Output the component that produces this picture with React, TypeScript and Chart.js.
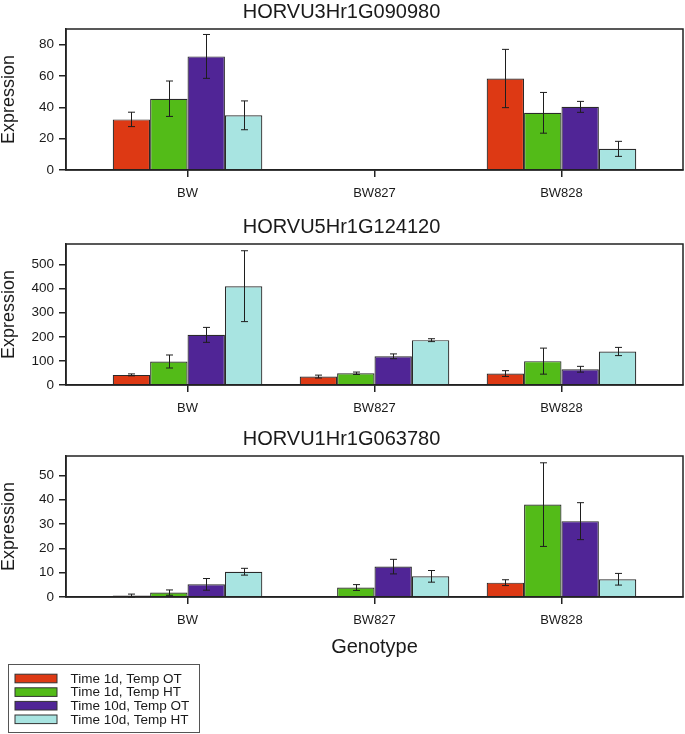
import React, { useEffect, useRef } from 'react';
import { Chart, registerables } from 'chart.js';

Chart.register(...registerables);

// ---------------- data ----------------
const genotypes = ['BW', 'BW827', 'BW828'];
const seriesLabels = ['Time 1d, Temp OT', 'Time 1d, Temp HT', 'Time 10d, Temp OT', 'Time 10d, Temp HT'];
const seriesColors = ['#DD3914', '#53BB18', '#502596', '#A8E4E1'];

const gene1Title = 'HORVU3Hr1G090980';
const gene1Values = {
  t1OT: [32.3, null, 58.4],
  t1HT: [45.5, null, 36.5],
  t10OT: [72.5, null, 40.3],
  t10HT: [34.9, null, 13.5],
};
const gene1Errors = {
  t1OT: [4.6, null, 18.6],
  t1HT: [11.3, null, 13.0],
  t10OT: [14.0, null, 3.5],
  t10HT: [9.2, null, 4.8],
};
const gene1YTicks = [0, 20, 40, 60, 80];
const gene1YMax = 90;

const gene2Title = 'HORVU5Hr1G124120';
const gene2Values = {
  t1OT: [42, 35, 47.5],
  t1HT: [97.5, 48.7, 99],
  t10OT: [208, 119, 65.4],
  t10HT: [410, 186, 139],
};
const gene2Errors = {
  t1OT: [4, 6, 12],
  t1HT: [27, 5, 54],
  t10OT: [31, 10, 12],
  t10HT: [147, 6, 17],
};
const gene2YTicks = [0, 100, 200, 300, 400, 500];
const gene2YMax = 585;

const gene3Title = 'HORVU1Hr1G063780';
const gene3Values = {
  t1OT: [0.6, null, 5.9],
  t1HT: [1.8, 3.9, 38.0],
  t10OT: [5.2, 12.5, 31.2],
  t10HT: [10.4, 8.5, 7.3],
};
const gene3Errors = {
  t1OT: [0.6, null, 1.2],
  t1HT: [1.1, 1.2, 17.2],
  t10OT: [2.4, 3.0, 7.6],
  t10HT: [1.4, 2.4, 2.4],
};
const gene3YTicks = [0, 10, 20, 30, 40, 50];
const gene3YMax = 58;

const seriesKeys = ['t1OT', 't1HT', 't10OT', 't10HT'];

// ---------------- styling ----------------
const FONT = "'Liberation Sans', Arial, Helvetica, sans-serif";
const TEXT = '#1a1a1a';
const AXIS = '#222222';
const WIDTH = 685;

// ---------------- plugins ----------------
const errorBarPlugin = {
  id: 'errorBarsCustom',
  afterDatasetsDraw(chart: any) {
    const ctx = chart.ctx;
    const yScale = chart.scales.y;
    ctx.save();
    ctx.strokeStyle = '#1e1e1e';
    ctx.lineWidth = 1;
    chart.data.datasets.forEach((ds: any, i: number) => {
      const meta = chart.getDatasetMeta(i);
      const errs = ds.errorBars || [];
      meta.data.forEach((el: any, j: number) => {
        const pt = ds.data[j];
        const v = pt ? pt.y : null;
        const e = errs[j];
        if (v == null || e == null) return;
        const x = Math.round(el.x) + 0.5;
        const yt = yScale.getPixelForValue(v + e);
        const yb = yScale.getPixelForValue(Math.max(v - e, 0));
        ctx.beginPath();
        ctx.moveTo(x, yt);
        ctx.lineTo(x, yb);
        ctx.moveTo(x - 3.5, yt);
        ctx.lineTo(x + 3.5, yt);
        ctx.moveTo(x - 3.5, yb);
        ctx.lineTo(x + 3.5, yb);
        ctx.stroke();
      });
    });
    ctx.restore();
  },
};

const framePlugin = {
  id: 'frameCustom',
  afterDraw(chart: any) {
    const { ctx, chartArea } = chart;
    ctx.save();
    ctx.strokeStyle = AXIS;
    ctx.lineWidth = 1.5;
    ctx.strokeRect(chartArea.left, chartArea.top, chartArea.right - chartArea.left, chartArea.bottom - chartArea.top);
    ctx.restore();
  },
};

const boxLegendPlugin = {
  id: 'boxLegendCustom',
  afterDraw(chart: any, _args: any, opts: any) {
    if (!opts || !opts.show) return;
    const ctx = chart.ctx;
    const left = 8.5;
    const top = opts.top + 0.5;
    const w = 191;
    const h = 68;
    ctx.save();
    ctx.strokeStyle = '#555';
    ctx.lineWidth = 1;
    ctx.strokeRect(left, top, w, h);
    ctx.font = `13.5px ${FONT}`;
    ctx.textBaseline = 'middle';
    ctx.textAlign = 'left';
    chart.data.datasets.forEach((ds: any, i: number) => {
      const cy = top + 14 + i * 13.6;
      ctx.fillStyle = ds.backgroundColor;
      ctx.fillRect(15, cy - 4.3, 42, 8.6);
      ctx.strokeStyle = '#333';
      ctx.strokeRect(15, cy - 4.3, 42, 8.6);
      ctx.fillStyle = TEXT;
      ctx.fillText(ds.label, 70.5, cy + 0.5);
    });
    ctx.restore();
  },
};

// ---------------- panel ----------------
type PanelProps = {
  title: string;
  values: Record<string, (number | null)[]>;
  errors: Record<string, (number | null)[]>;
  yTicks: number[];
  yMax: number;
  top: number;
  height: number;
  showGenotype?: boolean;
  showLegend?: boolean;
};

function Panel(props: PanelProps) {
  const ref = useRef<HTMLCanvasElement | null>(null);
  useEffect(() => {
    if (!ref.current) return;
    const { title, values, errors, yTicks, yMax, height, showGenotype, showLegend } = props;
    const datasets = seriesKeys.map((k, i) => ({
      label: seriesLabels[i],
      data: genotypes.map((_, j) => ({ x: j, y: values[k][j] })),
      errorBars: errors[k],
      backgroundColor: seriesColors[i],
      borderColor: '#2a2a2a',
      borderWidth: 1.2,
      categoryPercentage: 0.8,
      barPercentage: 1.0,
    }));
    const chart = new Chart(ref.current, {
      type: 'bar',
      data: { datasets } as any,
      options: {
        responsive: false,
        animation: false,
        events: [],
        layout: { padding: { left: 0, right: 2, top: 0, bottom: 0 } },
        plugins: {
          legend: { display: false },
          tooltip: { enabled: false },
          title: {
            display: true,
            text: title,
            color: TEXT,
            font: { family: FONT, size: 20, weight: 'normal', lineHeight: 1 },
            padding: { top: 2, bottom: 7 },
          },
          boxLegendCustom: { show: !!showLegend, top: 237 },
        } as any,
        scales: {
          x: {
            type: 'linear',
            min: -0.65,
            max: 2.65,
            offset: false,
            afterBuildTicks: (s: any) => {
              s.ticks = genotypes.map((_, j) => ({ value: j }));
            },
            afterFit: (s: any) => {
              s.height = height - 170;
            },
            ticks: {
              color: TEXT,
              font: { family: FONT, size: 13 },
              padding: 9,
              autoSkip: false,
              maxRotation: 0,
              callback: (v: any) => genotypes[v] ?? '',
            },
            grid: { offset: false, drawOnChartArea: false, tickLength: 7, color: AXIS, lineWidth: 1.5 },
            border: { display: true, color: AXIS, width: 1.5 },
            title: {
              display: !!showGenotype,
              text: 'Genotype',
              color: TEXT,
              font: { family: FONT, size: 20, lineHeight: 1.2 },
              padding: { top: 0, bottom: 75 },
            },
          },
          y: {
            type: 'linear',
            min: 0,
            max: yMax,
            afterBuildTicks: (s: any) => {
              s.ticks = yTicks.map((v) => ({ value: v }));
            },
            afterFit: (s: any) => {
              s.width = 66;
            },
            ticks: {
              color: TEXT,
              font: { family: FONT, size: 13.5 },
              padding: 5,
            },
            grid: { drawOnChartArea: false, tickLength: 7, color: AXIS, lineWidth: 1.5 },
            border: { display: true, color: AXIS, width: 1.5 },
            title: {
              display: true,
              text: 'Expression',
              color: TEXT,
              font: { family: FONT, size: 18, lineHeight: 1 },
              padding: 0,
            },
          },
        },
      } as any,
      plugins: [errorBarPlugin, framePlugin, boxLegendPlugin],
    });
    return () => chart.destroy();
  }, []);
  return (
    <canvas
      ref={ref}
      width={WIDTH}
      height={props.height}
      style={{ position: 'absolute', left: 0, top: props.top, width: WIDTH, height: props.height }}
    />
  );
}

export default function App() {
  return (
    <div style={{ position: 'absolute', left: 0, top: 0, width: WIDTH, height: 734, background: '#fff', overflow: 'hidden' }}>
      <Panel title={gene1Title} values={gene1Values} errors={gene1Errors} yTicks={gene1YTicks} yMax={gene1YMax} top={0} height={215} />
      <Panel title={gene2Title} values={gene2Values} errors={gene2Errors} yTicks={gene2YTicks} yMax={gene2YMax} top={215} height={215} />
      <Panel
        title={gene3Title}
        values={gene3Values}
        errors={gene3Errors}
        yTicks={gene3YTicks}
        yMax={gene3YMax}
        top={427}
        height={307}
        showGenotype
        showLegend
      />
    </div>
  );
}
